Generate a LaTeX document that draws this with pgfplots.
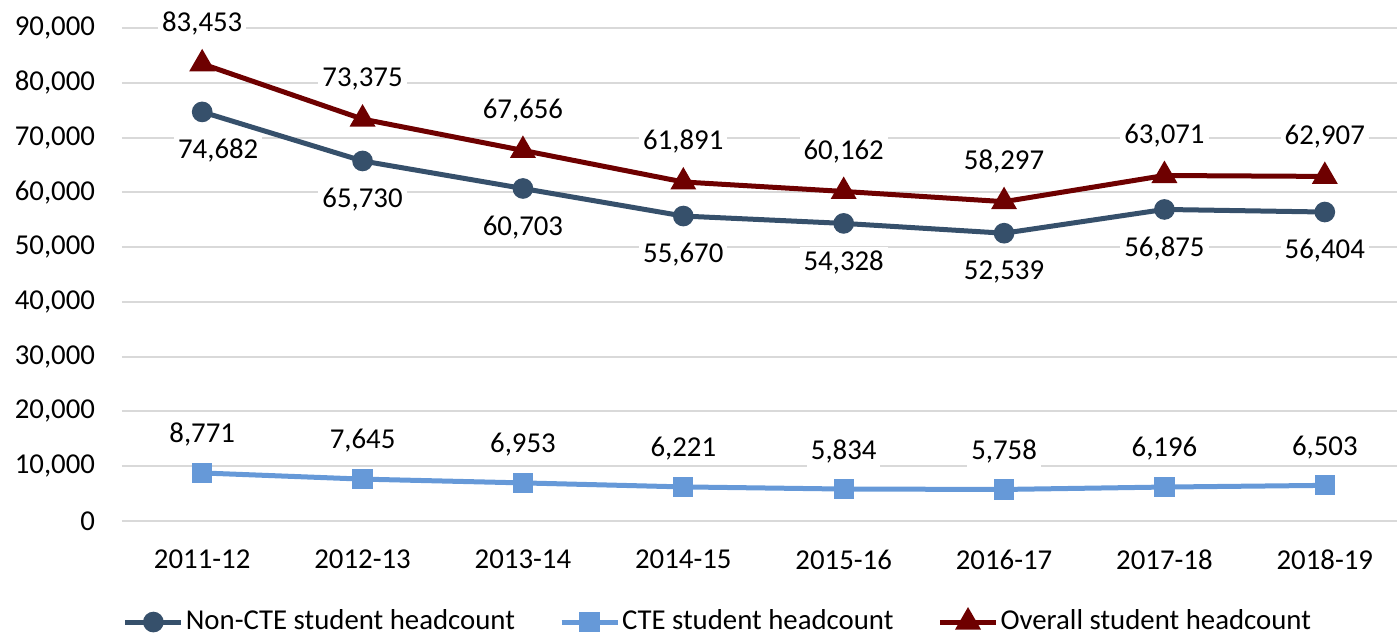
\documentclass[border=0pt]{standalone}
\usepackage{fontspec}
\setmainfont{Carlito}
\usepackage{pgfplots}
\pgfplotsset{compat=1.18}
\definecolor{noncte}{HTML}{36506B}
\definecolor{cte}{HTML}{6699D8}
\definecolor{overall}{HTML}{6E0000}
\definecolor{gridc}{HTML}{D9D9D9}
\begin{document}
\fontsize{14.4}{17}\selectfont
\begin{tikzpicture}
\path[use as bounding box] (0,0) rectangle (698.5pt,318pt);
\begin{axis}[
  at={(61pt,57.5pt)}, anchor=south west,
  scale only axis, width=641.5pt, height=246.5pt,
  xmin=-0.5, xmax=7.5, ymin=0, ymax=90000,
  xtick={0,...,7},
  xticklabels={2011-12,2012-13,2013-14,2014-15,2015-16,2016-17,2017-18,2018-19},
  ytick={0,10000,...,90000},
  axis line style={draw=none}, major tick style={draw=none},
  ymajorgrids, grid style={color=gridc, line width=1pt},
  scaled y ticks=false,
  yticklabel={\pgfmathprintnumber[assume math mode=true,fixed,precision=0,1000 sep={,}]{\tick}},
  yticklabel style={xshift=-8.5pt},
  xticklabel style={yshift=-9.5pt},
  nodes near coords={\pgfmathprintnumber[assume math mode=true,fixed,precision=0,1000 sep={,}]{\pgfplotspointmeta}},
  every node near coord/.append style={anchor=center, fill=white, inner sep=2pt, text=black, font=\fontsize{14.4}{17}\selectfont},
  legend columns=3,
  legend style={at={(0.4645,-0.205)}, anchor=center, draw=none, fill=none,
    nodes={inner xsep=1pt},
    /tikz/every even column/.append style={column sep=21pt}, font=\fontsize{14.4}{17}\selectfont, inner sep=0pt},
  legend image code/.code={\draw[mark repeat=2,mark phase=2,#1] plot coordinates {(0pt,0pt) (14pt,0pt) (28pt,0pt)};},
]
\addplot[noncte, line width=2.5pt, mark=*, mark size=3.9pt,
  every node near coord/.append style={yshift=-19.5pt},
  coordinate style/.condition={\coordindex==0}{anchor=east, xshift=8pt}]
  coordinates {(0,74682) (1,65730) (2,60703) (3,55670) (4,54328) (5,52539) (6,56875) (7,56404)};
\addlegendentry{Non-CTE student headcount}
\addplot[cte, line width=2.5pt, mark=square*, mark size=3.8pt,
  every node near coord/.append style={yshift=19pt}]
  coordinates {(0,8771) (1,7645) (2,6953) (3,6221) (4,5834) (5,5758) (6,6196) (7,6503)};
\addlegendentry{CTE student headcount}
\addplot[overall, line width=2.5pt, mark=triangle*, mark size=5pt,
  every node near coord/.append style={yshift=20pt}]
  coordinates {(0,83453) (1,73375) (2,67656) (3,61891) (4,60162) (5,58297) (6,63071) (7,62907)};
\addlegendentry{Overall student headcount}
\end{axis}
\end{tikzpicture}
\end{document}
